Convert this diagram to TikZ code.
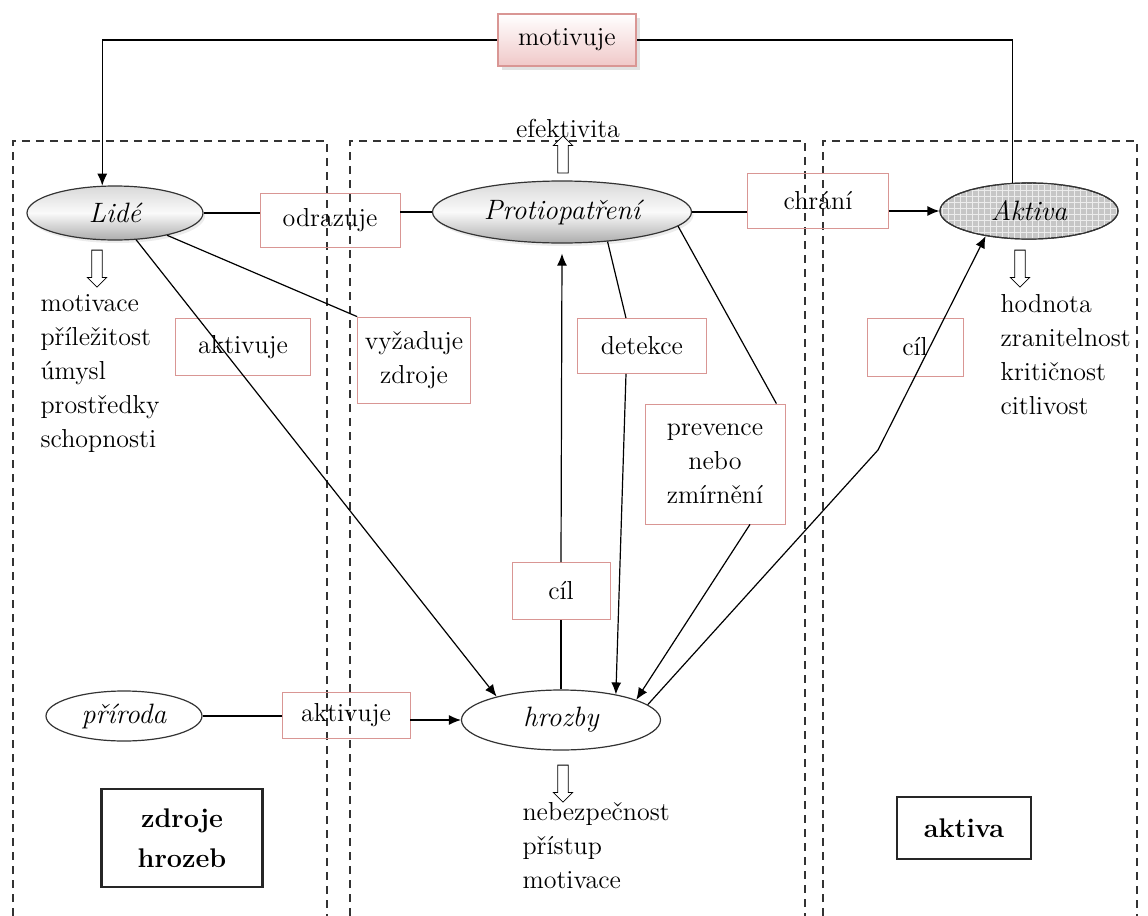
\documentclass[tikz,border=0pt]{standalone}
\usepackage{tikz}
\usetikzlibrary{shapes,arrows.meta,patterns,shadows,positioning}

\definecolor{boxred}{RGB}{217,150,148}
\definecolor{boxpink}{RGB}{240,200,200}

\begin{document}
\begin{tikzpicture}[x=0.5pt, y=-0.5pt, >={Latex[length=6pt,width=5pt]}, semithick,
  every node/.style={font=\fontsize{13}{17}\selectfont},
  labelbox/.style={draw=boxred, thin, inner sep=0pt, align=center},
  motivbox/.style={draw=boxred, line width=0.9pt, top color=white, bottom color=boxpink, drop shadow={shadow xshift=2pt, shadow yshift=-2pt, fill=gray!45}},
  actor/.style={ellipse, draw=gray!40!black, inner sep=0pt, font=\fontsize{14}{17}\selectfont\itshape},
  shadedactor/.style={actor, top color=gray!30, bottom color=gray!65, middle color=gray!4, drop shadow={shadow xshift=1pt, shadow yshift=-1.5pt, fill=gray!30}},
  hollow/.style={single arrow, draw, thin, fill=white, minimum height=18.5pt, minimum width=9.5pt, inner sep=2.4pt, single arrow head extend=2.2pt},
  zone/.style={dash pattern=on 4pt off 3pt, line width=0.7pt, black!80},
  itemlist/.style={align=left, anchor=north west, inner sep=0pt},
  titlebox/.style={draw=gray!30!black, line width=1.2pt, align=center, font=\fontsize{13.5}{20}\selectfont\bfseries}]
\useasboundingbox (0,0) rectangle (1148,916);

\draw[zone] (13,916) -- (13,141) -- (327,141) -- (327,916);
\draw[zone] (350,916) -- (350,141) -- (805,141) -- (805,916);
\draw[zone] (823,916) -- (823,141) -- (1137,141) -- (1137,916);

\node[shadedactor, minimum width=88pt, minimum height=27pt] (lide) at (115,213) {Lidé};
\node[shadedactor, minimum width=129.5pt, minimum height=31pt] (proti) at (562,212) {Protiopatření};
\node[actor, fill=gray!45, postaction={pattern=grid, pattern color=white!85!gray}, postaction={draw=gray!40!black}, minimum width=89pt, minimum height=28pt] (aktiva) at (1029,211) {Aktiva};
\node[actor, fill=white, minimum width=99.5pt, minimum height=30pt] (hrozby) at (561,720) {hrozby};
\node[actor, fill=white, minimum width=78pt, minimum height=25pt] (prir) at (124,716) {příroda};

\node[motivbox, minimum width=69pt, minimum height=26pt] (motiv) at (567,40) {motivuje};
\node[labelbox, minimum width=70pt, minimum height=27pt] (odraz) at (330,220) {odrazuje};
\node[labelbox, minimum width=70.5pt, minimum height=27.5pt] (chrani) at (818,201) {chrání};
\node[labelbox, minimum width=67.5pt, minimum height=28.5pt] (aktiv) at (243,347) {aktivuje};
\node[labelbox, minimum width=56.5pt, minimum height=43pt] (vyzad) at (414,360) {vyžaduje\\zdroje};
\node[labelbox, minimum width=64.5pt, minimum height=27.5pt] (detek) at (642,346) {detekce};
\node[labelbox, minimum width=70pt, minimum height=60pt] (prev) at (715,464) {prevence\\nebo\\zmírnění};
\node[labelbox, minimum width=49pt, minimum height=28.5pt] (cilmid) at (561,591) {cíl};
\node[labelbox, minimum width=48pt, minimum height=29pt] (cilright) at (915,347) {cíl};
\node[labelbox, minimum width=64pt, minimum height=23pt] (aktiv2) at (346,715) {aktivuje};

\node (efekt) at (568,128) {efektivita};
\node[hollow, rotate=90] (efarr) at (563,157) {};
\node[hollow, rotate=-90] (lidearr) at (97,266) {};
\node[hollow, rotate=-90] (aktarr) at (1020,266) {};
\node[hollow, rotate=-90] (hrozarr) at (563,781) {};

\node[itemlist] (lidelist) at (40,294) {motivace\\příležitost\\úmysl\\prostředky\\schopnosti};
\node[itemlist] (aktlist) at (1000,294) {hodnota\\zranitelnost\\kritičnost\\citlivost};
\node[itemlist] (hrozlist) at (522,802) {nebezpečnost\\přístup\\motivace};

\node[titlebox, minimum width=80.5pt, minimum height=49pt] (zdroje) at (182,838) {zdroje\\hrozeb};
\node[titlebox, minimum width=67pt, minimum height=31pt] (aktbox) at (964,828) {aktiva};

% connectors
\draw (aktiva.120) -- (aktiva.120 |- motiv.east) -- (motiv.east);
\draw[->] (motiv.west) -- (motiv.west -| lide.115) -- (lide.115);
\draw (lide.east) -- (lide.east -| odraz.west);
\draw (odraz.east |- proti.west) -- (proti.west);
\draw (proti.east) -- (proti.east -| chrani.west);
\draw[->] (chrani.east |- aktiva.west) -- (aktiva.west);
\draw (lide) -- (vyzad.north west);
\draw[->] (lide) -- (hrozby.160);
\draw (proti.-33) -- ([xshift=-8pt]detek.north);
\draw[->] ([xshift=-8pt]detek.south) -- (hrozby.25);
\draw (proti.-7) -- ([xshift=-4.5pt]prev.north east);
\draw[->] ([xshift=17.5pt]prev.south) -- (hrozby.15);
\draw (hrozby.north) -- (cilmid.south);
\draw[->] (cilmid.north) -- ([yshift=-5pt]proti.south);
\coordinate (knee) at (878,450);
\draw[->] (hrozby.10) -- (knee) -- (aktiva.210);
\draw (prir.east) -- (prir.east -| aktiv2.west);
\draw[->] (aktiv2.east |- hrozby.west) -- (hrozby.west);
\end{tikzpicture}
\end{document}
